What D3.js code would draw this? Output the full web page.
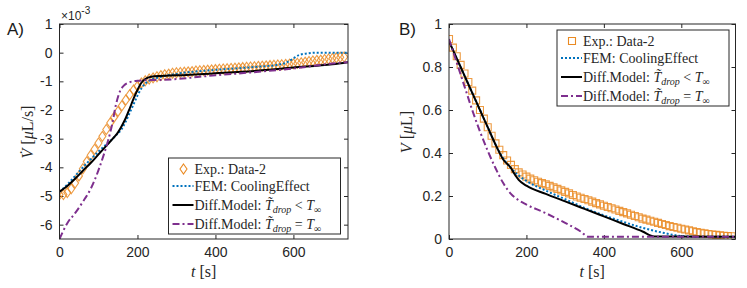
<!DOCTYPE html>
<html>
<head>
<meta charset="utf-8">
<style>
  body { margin: 0; background: #fff; }
  svg { display: block; }
</style>
</head>
<body>
<svg class="chart"></svg>
<script src="https://d3js.org/d3.v7.min.js"></script>
<script>

var width = 747, height = 288;

// experimental sample times (s), shared by both panels
var tExp = [0,10,20,30,40,50,60,70,80,90,100,110,120,130,140,150,160,170,180,190,
  200,210,220,230,240,250,260,270,280,290,300,310,320,330,340,350,360,370,380,390,
  400,410,420,430,440,450,460,470,480,490,500,510,520,530,540,550,560,570,580,590,
  600,610,620,630,640,650,660,670,680,690,700,710,720,730];

// panel A: dV/dt (x1e-3 uL/s)
var rateExp = [-4.95,-4.95,-4.88,-4.75,-4.55,-4.3,-4.05,-3.8,-3.58,-3.37,-3.15,-2.92,-2.68,-2.45,-2.25,-2.05,-1.85,-1.65,-1.47,-1.3,
  -1.17,-1.06,-0.98,-0.92,-0.88,-0.84,-0.8,-0.77,-0.75,-0.72,-0.7,-0.69,-0.68,-0.67,-0.66,-0.64,-0.63,-0.62,-0.61,-0.6,
  -0.59,-0.58,-0.57,-0.56,-0.55,-0.54,-0.53,-0.52,-0.51,-0.5,-0.49,-0.48,-0.47,-0.46,-0.45,-0.44,-0.43,-0.42,-0.41,-0.4,
  -0.39,-0.37,-0.35,-0.33,-0.31,-0.29,-0.27,-0.26,-0.24,-0.22,-0.2,-0.18,-0.16,-0.15];

var tFemA = [0,20,40,60,80,100,120,140,160,170,180,190,200,210,220,230,250,300,400,500,560,580,600,615,640,660,740];
var rateFem = [-4.85,-4.6,-4.3,-4.0,-3.72,-3.45,-3.2,-2.95,-2.65,-2.4,-2.1,-1.8,-1.5,-1.25,-1.08,-0.98,-0.88,-0.74,-0.6,-0.5,-0.42,-0.36,-0.2,-0.08,-0.02,0,0];

var tCoolA = [0,20,40,60,80,100,120,140,150,160,170,180,190,200,210,220,235,260,300,400,500,600,700,740];
var rateCool = [-4.85,-4.65,-4.4,-4.12,-3.85,-3.55,-3.25,-2.95,-2.78,-2.55,-2.28,-1.95,-1.6,-1.3,-1.05,-0.92,-0.84,-0.81,-0.79,-0.72,-0.64,-0.52,-0.4,-0.33];

var tIsoA = [0,20,40,60,80,100,115,125,135,145,155,165,180,200,220,260,300,360,400,500,600,700,740];
var rateIso = [-6.5,-5.95,-5.6,-5.2,-4.75,-4.1,-3.5,-3.05,-2.5,-1.8,-1.35,-1.15,-1.03,-0.98,-0.96,-0.95,-0.92,-0.84,-0.79,-0.68,-0.55,-0.38,-0.33];

// panel B: V (uL)
var volExp = [0.93,0.89,0.85,0.81,0.77,0.73,0.69,0.645,0.6,0.56,0.52,0.48,0.445,0.415,0.39,0.365,0.345,0.325,0.31,0.3,
  0.29,0.281,0.273,0.266,0.26,0.254,0.247,0.24,0.233,0.226,0.219,0.212,0.205,0.198,0.192,0.186,0.18,0.174,0.167,0.161,
  0.155,0.149,0.143,0.137,0.131,0.125,0.119,0.113,0.107,0.101,0.095,0.09,0.085,0.08,0.075,0.07,0.065,0.06,0.056,0.052,
  0.048,0.044,0.04,0.036,0.032,0.029,0.026,0.023,0.021,0.019,0.017,0.015,0.014,0.013];

var tFemB = [0,20,40,60,80,100,120,140,160,180,200,250,300,350,400,450,500,550,600,650,740];
var volFem = [0.92,0.84,0.76,0.68,0.6,0.52,0.44,0.375,0.33,0.295,0.27,0.225,0.185,0.145,0.11,0.08,0.052,0.03,0.014,0.01,0.01];

var tCoolB = [0,20,40,60,80,100,120,140,160,170,180,200,250,300,350,400,450,500,530,740];
var volCool = [0.92,0.84,0.76,0.68,0.6,0.52,0.44,0.37,0.33,0.3,0.275,0.248,0.21,0.175,0.14,0.105,0.07,0.035,0.012,0.01];

var tIsoB = [0,20,40,60,80,100,120,140,160,180,200,250,300,340,360,740];
var volIso = [0.93,0.82,0.71,0.6,0.5,0.41,0.33,0.26,0.21,0.18,0.16,0.12,0.075,0.035,0.01,0.01];

var xTicks = [0,200,400,600];
var yTicksA = [1,0,-1,-2,-3,-4,-5,-6];
var yTicksB = [0,0.2,0.4,0.6,0.8,1];

var cOrange = "#ea8a22", cBlue = "#0072bd", cPurple = "#7e2f8e", cAxis = "#262626";
var SANS = '"Liberation Sans", Arial, Helvetica, sans-serif';
var SERIF = '"Liberation Serif", "Times New Roman", "DejaVu Serif", serif';

var svg = d3.select(".chart").attr("width", width).attr("height", height);
svg.append("rect").attr("width", width).attr("height", height).attr("fill", "#fff");

function styleAxis(sel) {
    sel.attr("font-family", null).attr("font-size", null);
    sel.selectAll("text").style("font-family", SANS).style("font-size", "14px").style("fill", cAxis);
    sel.selectAll("line").style("stroke", cAxis);
    sel.select(".domain").remove();
}

function panel(opts) {
    var x = d3.scaleLinear().domain([0, 740]).range([opts.left, opts.right]);
    var y = d3.scaleLinear().domain(opts.ydom).range([239, 24]);
    var g = svg.append("g");
    var fmt = function(d) { return String(d); };

    g.append("g").attr("transform", "translate(0,239)")
        .call(d3.axisBottom(x).tickValues(xTicks).tickFormat(fmt).tickSizeInner(-4).tickSizeOuter(0).tickPadding(8))
        .call(styleAxis);
    g.append("g").attr("transform", "translate(0,24)")
        .call(d3.axisTop(x).tickValues(xTicks).tickFormat("").tickSizeInner(-4).tickSizeOuter(0))
        .call(styleAxis);
    g.append("g").attr("transform", "translate(" + opts.left + ",0)")
        .call(d3.axisLeft(y).tickValues(opts.yticks).tickFormat(fmt).tickSizeInner(-4).tickSizeOuter(0).tickPadding(7))
        .call(styleAxis);
    g.append("g").attr("transform", "translate(" + opts.right + ",0)")
        .call(d3.axisRight(y).tickValues(opts.yticks).tickFormat("").tickSizeInner(-4).tickSizeOuter(0))
        .call(styleAxis);

    var clip = "clip" + opts.name;
    svg.append("clipPath").attr("id", clip).append("rect")
        .attr("x", opts.left).attr("y", 24).attr("width", opts.right - opts.left).attr("height", 215);
    var plot = g.append("g").attr("clip-path", "url(#" + clip + ")");

    // experimental markers
    plot.selectAll(".m").data(tExp.map(function(t, i) { return [t, opts.exp[i]]; }))
        .enter().append("path")
        .attr("d", opts.marker)
        .attr("transform", function(d) { return "translate(" + x(d[0]) + "," + y(d[1]) + ")"; })
        .attr("fill", "none").attr("stroke", cOrange).attr("stroke-width", 1.1).attr("stroke-opacity", 0.85);

    var line = d3.line().x(function(d) { return x(d[0]); }).y(function(d) { return y(d[1]); })
        .curve(d3.curveMonotoneX);
    opts.series.forEach(function(s) {
        plot.append("path").datum(s.t.map(function(t, i) { return [t, s.v[i]]; }))
            .attr("d", line).attr("fill", "none")
            .attr("stroke", s.color).attr("stroke-width", 2)
            .attr("stroke-dasharray", s.dash);
    });

    g.append("rect").attr("x", opts.left).attr("y", 24)
        .attr("width", opts.right - opts.left).attr("height", 215)
        .attr("fill", "none").attr("stroke", cAxis).attr("stroke-width", 1);

    // legend
    var L = opts.legend;
    var lg = g.append("g").attr("transform", "translate(" + L[0] + "," + L[1] + ")");
    lg.append("rect").attr("width", 172).attr("height", 76)
        .attr("fill", "#fff").attr("stroke", cAxis).attr("stroke-width", 1);
    var rowsY = [11, 28, 47, 66];
    lg.append("path").attr("d", opts.marker).attr("transform", "translate(15," + rowsY[0] + ")")
        .attr("fill", "none").attr("stroke", cOrange).attr("stroke-width", 1.1);
    opts.series.forEach(function(s, i) {
        lg.append("line").attr("x1", 4).attr("x2", 25).attr("y1", rowsY[i + 1]).attr("y2", rowsY[i + 1])
            .attr("stroke", s.color).attr("stroke-width", 2).attr("stroke-dasharray", s.dash);
    });
    var txt = function(i) {
        return lg.append("text").attr("x", 26).attr("y", rowsY[i] + 4.5)
            .style("font-family", SERIF).style("font-size", "14px").style("fill", cAxis);
    };
    txt(0).text("Exp.:  Data-2");
    txt(1).text("FEM:  CoolingEffect");
    [" < ", " = "].forEach(function(op, k) {
        var t = txt(2 + k);
        t.append("tspan").text("Diff.Model:  ");
        t.append("tspan").style("font-style", "italic").text("T\u0303");
        t.append("tspan").style("font-style", "italic").style("font-size", "10px").attr("dy", 3).text("drop");
        t.append("tspan").attr("dy", -3).text(op);
        t.append("tspan").style("font-style", "italic").text("T");
        t.append("tspan").style("font-size", "10px").attr("dy", 3).text("\u221e");
    });

    // axis labels
    var xl = g.append("text").style("font-family", SERIF).style("font-size", "16px").style("fill", cAxis)
        .attr("x", (opts.left + opts.right) / 2).attr("y", 277).attr("text-anchor", "middle");
    xl.append("tspan").style("font-style", "italic").text("t");
    xl.append("tspan").text(" [s]");

    var yl = g.append("text").style("font-family", SERIF).style("font-size", "16px").style("fill", cAxis)
        .attr("transform", "translate(" + opts.ylabX + ",132) rotate(-90)").attr("text-anchor", "middle");
    yl.append("tspan").style("font-style", "italic").text(opts.yvar);
    yl.append("tspan").text(" [");
    yl.append("tspan").style("font-style", "italic").text("\u03bc");
    yl.append("tspan").text(opts.yunit + "]");

    svg.append("text").attr("x", opts.tagX).attr("y", 35)
        .style("font-family", SANS).style("font-size", "17px")
        .style("fill", "#1a1a1a").text(opts.tag);
}

var diamond = "M0,-5L3.5,0L0,5L-3.5,0Z";
var square = "M-3.5,-3.5H3.5V3.5H-3.5Z";

panel({
    name: "A", left: 59.5, right: 348, ydom: [-6.5, 1], yticks: yTicksA,
    exp: rateExp, marker: diamond, legend: [168.5, 158],
    series: [
        {t: tFemA, v: rateFem, color: cBlue, dash: "2,2"},
        {t: tCoolA, v: rateCool, color: "#000", dash: null},
        {t: tIsoA, v: rateIso, color: cPurple, dash: "7,3,2,3"}
    ],
    ylabX: 33, yvar: "V\u0307", yunit: "L/s", tag: "A)", tagX: 7
});

panel({
    name: "B", left: 449, right: 735.5, ydom: [0, 1], yticks: yTicksB,
    exp: volExp, marker: square, legend: [557, 30],
    series: [
        {t: tFemB, v: volFem, color: cBlue, dash: "2,2"},
        {t: tCoolB, v: volCool, color: "#000", dash: null},
        {t: tIsoB, v: volIso, color: cPurple, dash: "7,3,2,3"}
    ],
    ylabX: 412, yvar: "V", yunit: "L", tag: "B)", tagX: 399
});

// exponent label of panel A
var ex = svg.append("text").attr("x", 61).attr("y", 20)
    .style("font-family", SANS).style("font-size", "12px").style("fill", cAxis);
ex.append("tspan").text("\u00d710");
ex.append("tspan").style("font-size", "10px").attr("dy", -6).text("-3");

</script>
</body>
</html>
